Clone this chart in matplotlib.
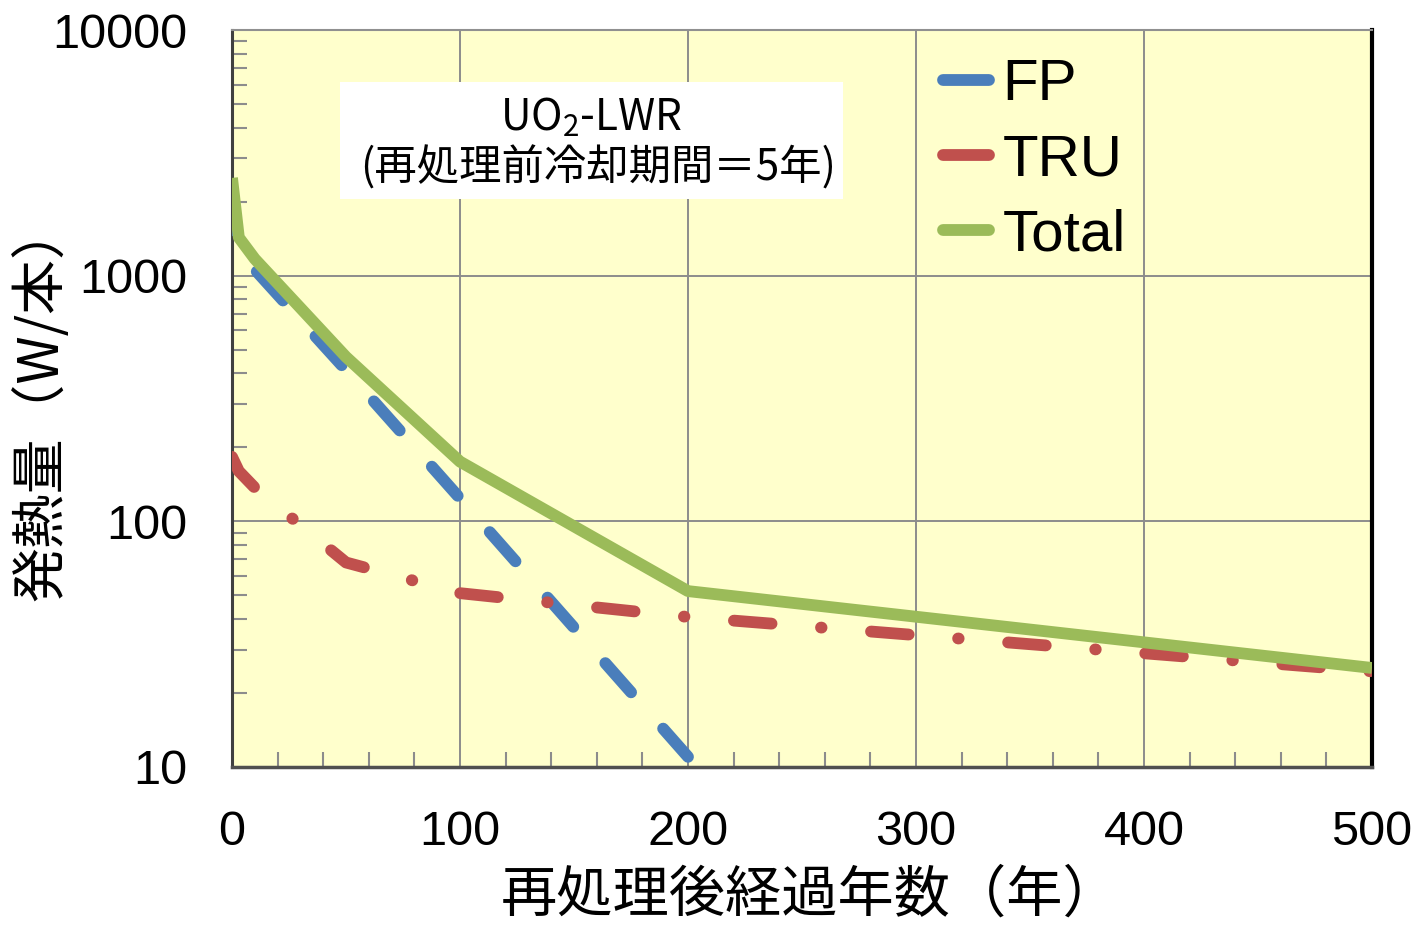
import matplotlib.pyplot as plt
from matplotlib.lines import Line2D
from matplotlib.patches import Rectangle
from matplotlib.ticker import FixedLocator, LogLocator, NullFormatter

# データ
years_fp = [0, 3, 10, 50, 100, 200]
fp = [1700, 1250, 1060, 413, 124, 11]

years_tru = [0, 3, 10, 50, 100, 200, 500]
tru = [183, 160, 137, 68, 51, 40.8, 24.5]

years_total = [0, 3, 10, 50, 100, 200, 500]
total = [2500, 1430, 1170, 467, 175, 52, 25.3]

series_names = ['FP', 'TRU', 'Total']
xticks = [0, 100, 200, 300, 400, 500]
yticks = [10, 100, 1000, 10000]

c_fp = '#4A7EBB'
c_tru = '#C0504D'
c_total = '#9BBB59'

cjk = ['Noto Sans CJK JP', 'DejaVu Sans']
latin = 'Liberation Sans'

plt.rcParams['mathtext.fontset'] = 'custom'
plt.rcParams['mathtext.rm'] = 'Noto Sans CJK JP'
plt.rcParams['mathtext.default'] = 'rm'

W, H = 1417, 926
fig = plt.figure(figsize=(W / 100, H / 100), dpi=100)
ax = fig.add_axes([232 / W, 1 - 767 / H, (1372 - 232) / W, (767 - 30) / H])
ax.set_facecolor('#FFFFCC')

lw = 8.5
ax.plot(years_fp, fp, color=c_fp, lw=lw, dash_capstyle='round',
        linestyle=(2.3, (3.3, 4.1)), zorder=3)
ax.plot(years_tru, tru, color=c_tru, lw=lw, dash_capstyle='round',
        linestyle=(0, (3.2, 4.2, 0.05, 4.2)), zorder=3)
ax.plot(years_total, total, color=c_total, lw=lw, solid_capstyle='butt',
        solid_joinstyle='round', zorder=4)

ax.set_yscale('log')
ax.set_xlim(0, 500)
ax.set_ylim(10, 10000)
ax.set_xticks(xticks)
ax.set_xticklabels([str(v) for v in xticks], fontsize=35, fontfamily=latin)
ax.yaxis.set_major_locator(FixedLocator(yticks))
ax.set_yticklabels([str(v) for v in yticks], fontsize=35, fontfamily=latin)
ax.xaxis.set_minor_locator(FixedLocator(range(0, 501, 20)))
ax.yaxis.set_minor_locator(LogLocator(base=10, subs=range(2, 10)))
ax.yaxis.set_minor_formatter(NullFormatter())

ax.tick_params(which='both', direction='in', color='#8C8C8C', width=1.5)
ax.tick_params(which='major', length=0)
ax.tick_params(which='minor', length=11)
ax.tick_params(axis='y', which='major', pad=32)
ax.tick_params(axis='x', which='major', pad=31)

ax.grid(True, which='major', color='#8C8C8C', lw=1.4, zorder=1)
ax.set_axisbelow(True)

ax.spines['left'].set_color('#404040')
ax.spines['left'].set_linewidth(2.2)
ax.spines['bottom'].set_color('#505050')
ax.spines['bottom'].set_linewidth(2.5)
ax.spines['top'].set_color('#909090')
ax.spines['top'].set_linewidth(1.5)
ax.spines['right'].set_color('black')
ax.spines['right'].set_linewidth(3)

# 凡例
handles = [Line2D([], [], color=c, lw=lw, solid_capstyle='round')
           for c in (c_fp, c_tru, c_total)]
leg = ax.legend(handles, series_names, loc='upper left',
                bbox_to_anchor=(0.6235, 0.962), frameon=False,
                prop={'family': latin, 'size': 42},
                handlelength=0.8, handletextpad=0.22, labelspacing=0.36,
                borderaxespad=0, borderpad=0)

# 注記ボックス
ax.add_patch(Rectangle((340 / W, 1 - 199 / H), (843 - 340) / W, (199 - 82) / H,
                       transform=fig.transFigure, facecolor='white',
                       edgecolor='none', zorder=2))
ax.text((591 - 232) / 1140, (767 - 118) / 737, 'UO$_2$-LWR', transform=ax.transAxes,
        ha='center', va='center', fontsize=30.5, family='Noto Sans CJK JP', zorder=5)
ax.text((598 - 232) / 1140, (767 - 168) / 737, '(再処理前冷却期間＝5年)',
        transform=ax.transAxes, ha='center', va='center', fontsize=30.5,
        family=cjk, zorder=5)

# 軸ラベル
fig.text(42 / W, 1 - 402 / H, '発熱量（W/本）', rotation=90, ha='center',
         va='center', fontsize=39.5, family=cjk)
fig.text(810 / W, 1 - 896 / H, '再処理後経過年数（年）', ha='center', va='center',
         fontsize=40.5, family=cjk)

fig.savefig('out.png', dpi=100)
